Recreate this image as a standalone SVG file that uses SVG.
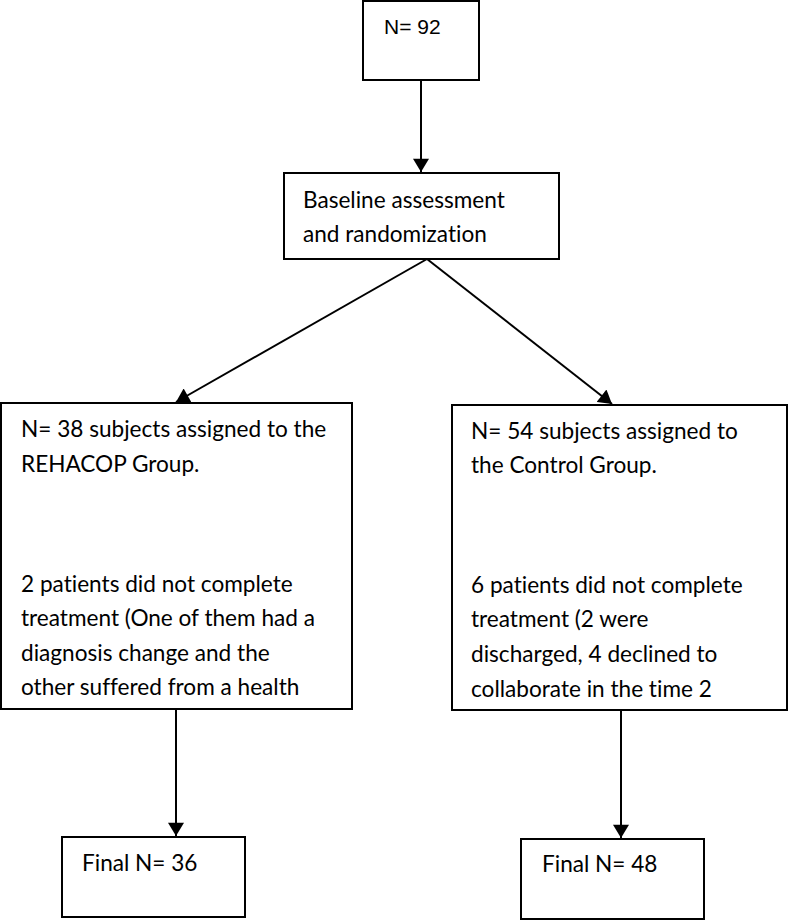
<svg xmlns="http://www.w3.org/2000/svg" width="788" height="920" viewBox="0 0 788 920">
<style>
.box{fill:#fff;stroke:#000;stroke-width:2}
.t{font-family:Lato,"Open Sans",sans-serif;font-size:22.6px;fill:#000;font-variant-ligatures:none}
.t0{font-family:"Liberation Sans",Arial,sans-serif;font-size:21px;fill:#000}
.c{stroke:#000;stroke-width:2;fill:none;marker-end:url(#ah)}
</style>
<defs>
<marker id="ah" viewBox="0 0 10 12" refX="10" refY="6" markerWidth="7" markerHeight="8" orient="auto" markerUnits="strokeWidth">
<path d="M0,0 L10,6 L0,12 Z" fill="#000"/>
</marker>
</defs>
<rect width="788" height="920" fill="#fff"/>
<g id="connectors">
<line class="c" x1="421" y1="80" x2="421" y2="172"/>
<line class="c" x1="427" y1="259" x2="176" y2="402"/>
<line class="c" x1="427" y1="259" x2="612" y2="404"/>
<line class="c" x1="176" y1="709" x2="176" y2="836"/>
<line class="c" x1="621" y1="710" x2="621" y2="838"/>
</g>
<g id="n92">
<rect class="box" x="363" y="1" width="116" height="79"/>
<text class="t0" x="384" y="34">N= 92</text>
</g>
<g id="baseline">
<rect class="box" x="284" y="173" width="275" height="86"/>
<text class="t" x="303" y="208">Baseline assessment</text>
<text class="t" x="303" y="242">and randomization</text>
</g>
<g id="rehacop">
<rect class="box" x="1" y="403" width="351" height="306"/>
<text class="t" x="21"><tspan x="21" y="437">N= 38 subjects assigned to the</tspan><tspan x="21" y="472">REHACOP Group.</tspan><tspan x="21" y="592">2 patients did not complete</tspan><tspan x="21" y="626">treatment (One of them had a</tspan><tspan x="21" y="661">diagnosis change and the</tspan><tspan x="21" y="695">other suffered from a health</tspan></text>
</g>
<g id="control">
<rect class="box" x="452" y="405" width="335" height="305"/>
<text class="t" x="471"><tspan x="471" y="439">N= 54 subjects assigned to</tspan><tspan x="471" y="473">the Control Group.</tspan><tspan x="471" y="593">6 patients did not complete</tspan><tspan x="471" y="627">treatment (2 were</tspan><tspan x="471" y="662">discharged, 4 declined to</tspan><tspan x="471" y="697">collaborate in the time 2</tspan></text>
</g>
<g id="final36">
<rect class="box" x="62" y="837" width="183" height="80"/>
<text class="t" x="82" y="871">Final N= 36</text>
</g>
<g id="final48">
<rect class="box" x="521" y="839" width="183" height="80"/>
<text class="t" x="542" y="872">Final N= 48</text>
</g>
</svg>
